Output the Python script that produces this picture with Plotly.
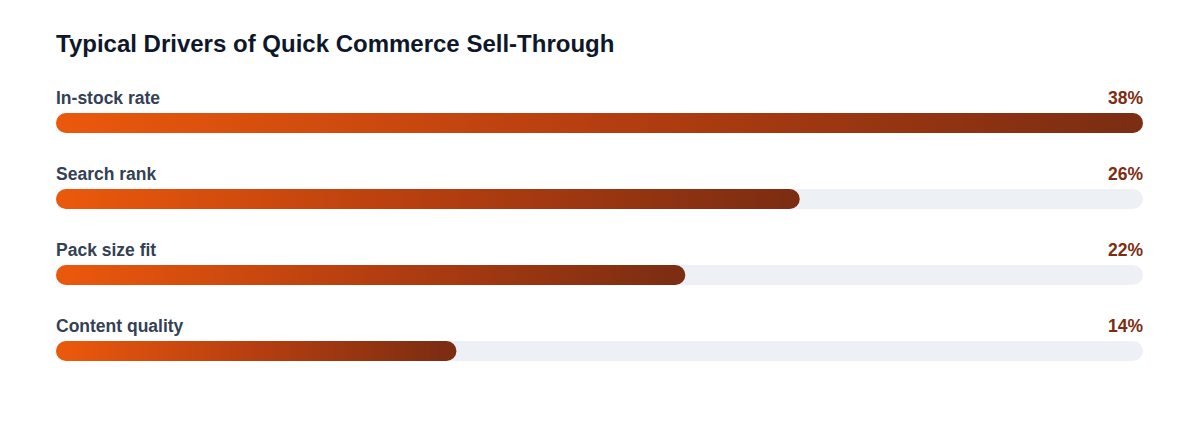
import plotly.graph_objects as go

# dados
drivers = ['In-stock rate', 'Search rank', 'Pack size fit', 'Content quality']
shares = [38, 26, 22, 14]
value_labels = ['38%', '26%', '22%', '14%']

# geometria (pixels) - a página tem 8px de margem no body
W, H = 1184, 416
left, right, top, bottom = 48, 49, 77, 35
cap = 10          # raio da ponta arredondada
row_px = 76       # distância entre linhas

xmax = max(shares)
unit_px = (W - left - right) / xmax
pad = cap / unit_px
half = cap / row_px  # meia altura da barra em unidades de y

track_color = '#edf1f5'
grad = [[0, '#ea580c'], [0.5, '#b53e10'], [1, '#7c2d12']]
font_family = 'Liberation Sans, Arial, sans-serif'

fig = go.Figure()

for i, (name, v) in enumerate(zip(drivers, shares)):
    # trilho cinza
    fig.add_trace(go.Scatter(
        x=[pad, xmax - pad, xmax - pad, pad, pad],
        y=[i - half, i - half, i + half, i + half, i - half],
        mode='lines', line=dict(width=0), fill='toself', fillcolor=track_color,
        hoverinfo='skip', showlegend=False))
    fig.add_trace(go.Scatter(
        x=[pad, xmax - pad], y=[i, i], mode='markers',
        marker=dict(size=2 * cap, color=track_color), hoverinfo='skip', showlegend=False))
    # barra com gradiente
    fig.add_trace(go.Scatter(
        x=[pad, v - pad, v - pad, pad, pad],
        y=[i - half, i - half, i + half, i + half, i - half],
        mode='lines', line=dict(width=0), fill='toself',
        fillgradient=dict(type='horizontal', colorscale=grad, start=pad, stop=v - pad),
        hoverinfo='skip', showlegend=False))
    fig.add_trace(go.Scatter(
        x=[pad, v - pad], y=[i, i], mode='markers',
        marker=dict(size=2 * cap, color=[grad[0][1], grad[-1][1]]),
        hoverinfo='skip', showlegend=False))

    # rótulos
    fig.add_annotation(x=0, xref='paper', y=i, yref='y', yshift=25, xshift=-2,
                       text=name, showarrow=False, xanchor='left', yanchor='middle',
                       font=dict(size=17.5, color='#334155', family=font_family, weight='bold'))
    fig.add_annotation(x=1, xref='paper', y=i, yref='y', yshift=25, xshift=2,
                       text=value_labels[i], showarrow=False, xanchor='right', yanchor='middle',
                       font=dict(size=17.5, color='#7c2d12', family=font_family, weight='bold'))

fig.update_layout(
    width=W, height=H,
    margin=dict(l=left, r=right, t=top, b=bottom),
    paper_bgcolor='white', plot_bgcolor='white',
    title=dict(text='<b>Typical Drivers of Quick Commerce Sell-Through</b>',
               x=0, xref='paper', xanchor='left', y=1 - 36 / H, yanchor='middle',
               font=dict(size=24, color='#0f172a', family=font_family)),
    xaxis=dict(range=[0, xmax], visible=False, fixedrange=True),
    yaxis=dict(range=[len(drivers) - 0.5, -0.5], visible=False, fixedrange=True),
    showlegend=False,
)

fig.write_html('out.html')
